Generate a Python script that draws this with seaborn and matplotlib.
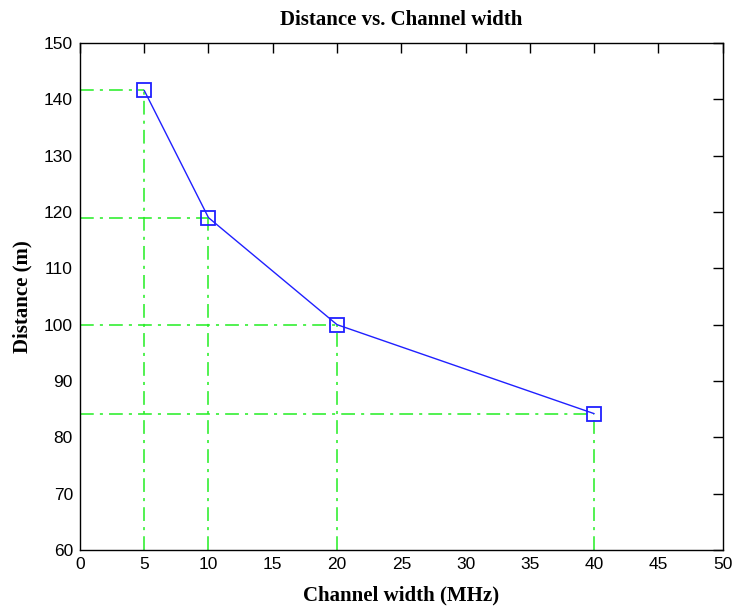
import matplotlib
matplotlib.use("Agg")
import matplotlib.pyplot as plt
import seaborn as sns
import pandas as pd

channel_width = [5, 10, 20, 40]
distance = [141.6, 119.0, 100.0, 84.2]
x_ticks = [0, 5, 10, 15, 20, 25, 30, 35, 40, 45, 50]
y_ticks = [60, 70, 80, 90, 100, 110, 120, 130, 140, 150]

sns.set_theme(style="white")
plt.rcParams['font.family'] = ['Liberation Sans', 'DejaVu Sans']
plt.rcParams['text.color'] = 'black'
plt.rcParams['axes.labelcolor'] = 'black'

df = pd.DataFrame({"w": channel_width, "d": distance})

fig = plt.figure(figsize=(7.33, 6.10), dpi=100)
ax = fig.add_axes([0.109, 0.0984, 0.877, 0.8311])

guide = (0, (9, 4, 2, 4))
for xv, yv in zip(channel_width, distance):
    ax.plot([xv, xv], [60, yv], color="#22ee22", lw=1.1, ls=guide, zorder=1)
    ax.plot([0, xv], [yv, yv], color="#22ee22", lw=1.1, ls=guide, zorder=1)

sns.lineplot(data=df, x="w", y="d", ax=ax, color="#2020ff", lw=1.0,
             marker="s", markersize=10, markerfacecolor="none",
             markeredgecolor="#2020ff", markeredgewidth=1.3, zorder=3)

ax.set_xlim(0, 50)
ax.set_ylim(60, 150)
ax.set_xticks(x_ticks)
ax.set_yticks(y_ticks)
ax.tick_params(direction="in", length=7, width=1, top=True, right=True,
               labelsize=12.5, colors="black", pad=5)
for s in ax.spines.values():
    s.set_color("black")
    s.set_linewidth(1)

serif = ["Liberation Serif", "DejaVu Serif"]
ax.set_xlabel("Channel width (MHz)", fontsize=15, fontweight="bold",
              family=serif, labelpad=10, color="black")
ax.set_ylabel("Distance (m)", fontsize=15, fontweight="bold",
              family=serif, labelpad=8, color="black")
ax.set_title("Distance vs. Channel width", fontsize=15, fontweight="bold",
             family=serif, pad=13, color="black")

fig.savefig("out.png", dpi=100, facecolor="white")
